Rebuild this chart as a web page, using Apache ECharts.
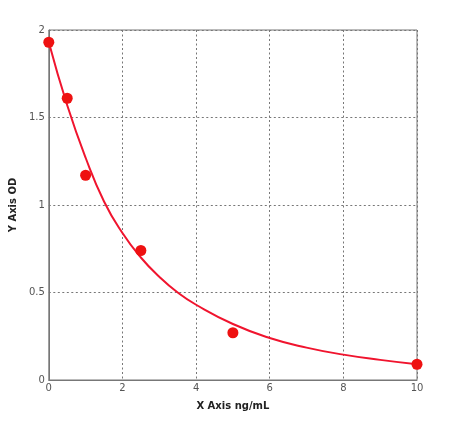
<!DOCTYPE html>
<html>
<head>
<meta charset="utf-8">
<script src="https://cdn.jsdelivr.net/npm/echarts@6/dist/echarts.min.js"></script>
<style>
  html, body { margin: 0; padding: 0; background: #fff; }
  #chart { width: 474px; height: 438px; }
</style>
</head>
<body>
<div id="chart"></div>
<script>
// measured standards (concentration, OD)
var pointX = [0, 0.5, 1, 2.5, 5, 10];
var pointY = [1.93, 1.61, 1.17, 0.74, 0.27, 0.09];

// fitted curve
var curveX = [0, 0.5, 1, 1.5, 2, 2.5, 3, 3.5, 4, 5, 6, 7, 8, 9, 10];
var curveY = [1.93, 1.57, 1.27, 1.02, 0.84, 0.70, 0.59, 0.50, 0.43, 0.32, 0.24, 0.185, 0.145, 0.115, 0.09];

var xTicks = [0, 2, 4, 6, 8, 10];
var yTicks = [0, 0.5, 1, 1.5, 2];

var myChart = echarts.init(document.getElementById('chart'));

var labelStyle = { color: '#555', fontSize: 10, fontFamily: 'DejaVu Sans' };
var gridLine = { show: true, lineStyle: { color: '#777', type: [2, 2.5], width: 1 } };

var option = {
  animation: false,
  grid: {
    left: 47, right: 57, top: 30, bottom: 58,
    show: true,
    borderColor: '#777',
    borderWidth: 1
  },
  xAxis: {
    type: 'value',
    min: 0, max: 10, interval: 2,
    name: 'X Axis ng/mL',
    nameLocation: 'middle',
    nameGap: 21,
    nameTextStyle: { color: '#222', fontSize: 10, fontWeight: 'bold', fontFamily: 'DejaVu Sans' },
    axisLine: { show: true, lineStyle: { color: '#777' } },
    axisTick: { show: false },
    axisLabel: Object.assign({ margin: 3, formatter: function (v) { return xTicks.indexOf(v) >= 0 ? v : ''; } }, labelStyle),
    splitLine: gridLine
  },
  yAxis: {
    type: 'value',
    min: 0, max: 2, interval: 0.5,
    name: 'Y Axis OD',
    nameLocation: 'middle',
    nameGap: 22,
    nameTextStyle: { color: '#222', fontSize: 10, fontWeight: 'bold', fontFamily: 'DejaVu Sans' },
    axisLine: { show: true, lineStyle: { color: '#777' } },
    axisTick: { show: false },
    axisLabel: Object.assign({ margin: 4, formatter: function (v) { return yTicks.indexOf(v) >= 0 ? v : ''; } }, labelStyle),
    splitLine: gridLine
  },
  series: [
    {
      name: 'fit',
      type: 'line',
      smooth: 0.5,
      showSymbol: false,
      lineStyle: { color: '#f0142e', width: 2 },
      data: curveX.map(function (x, i) { return [x, curveY[i]]; }),
      z: 2
    },
    {
      name: 'standards',
      type: 'scatter',
      symbolSize: 11,
      itemStyle: { color: '#ee1111', opacity: 1 },
      data: pointX.map(function (x, i) { return [x, pointY[i]]; }),
      z: 3
    }
  ]
};
myChart.setOption(option);
</script>
</body>
</html>
